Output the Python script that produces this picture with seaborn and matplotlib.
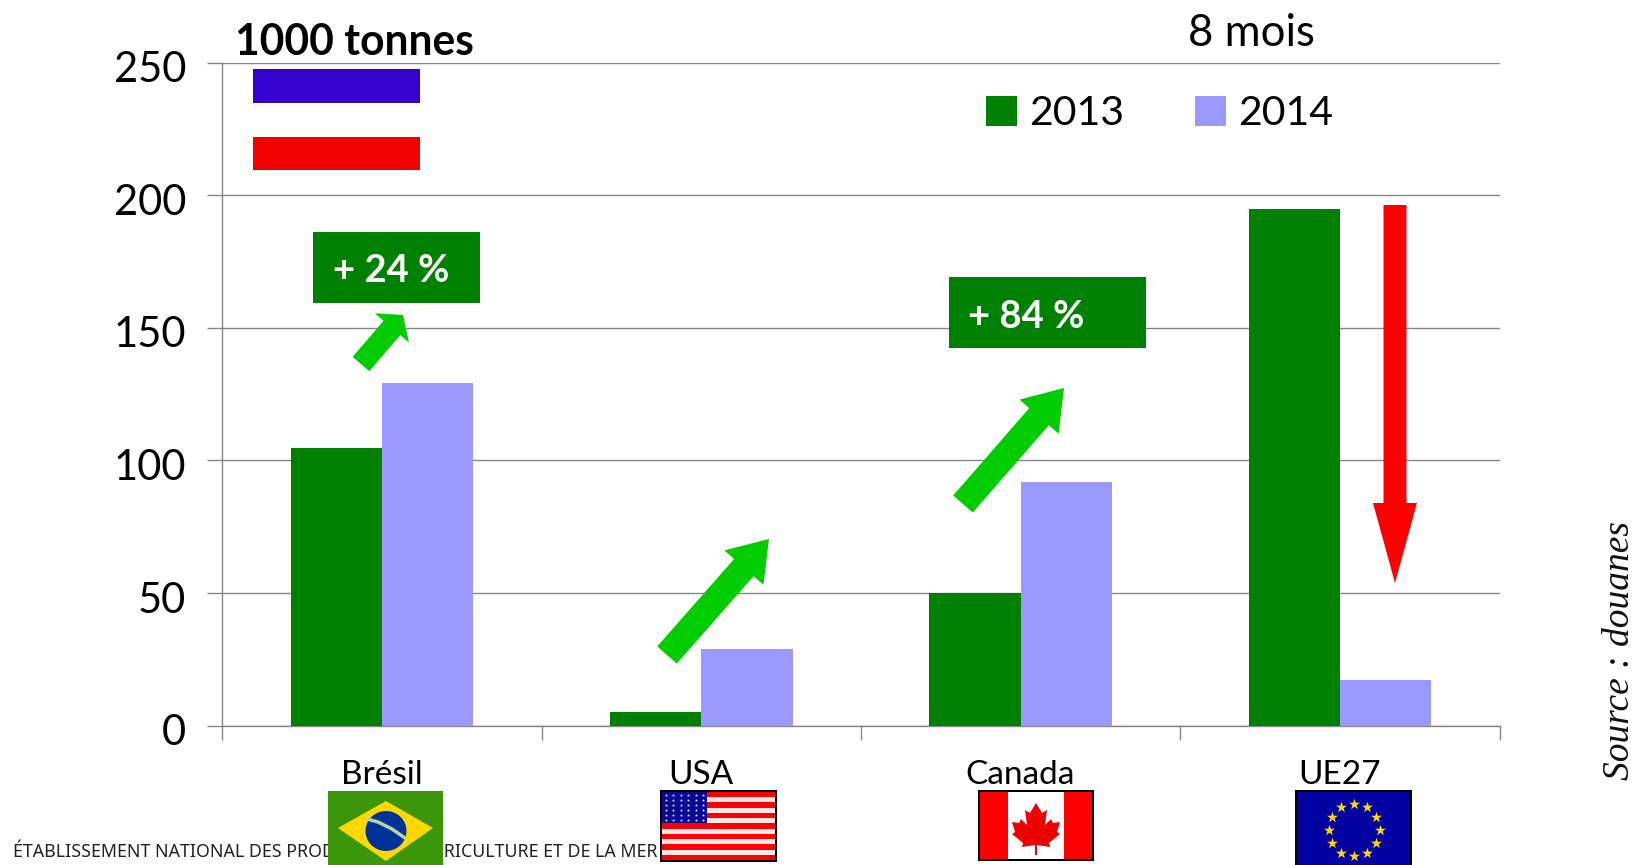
import numpy as np
import pandas as pd
import matplotlib
matplotlib.use("Agg")
import matplotlib.pyplot as plt
from matplotlib.patches import Polygon, Rectangle, Ellipse
from matplotlib.transforms import ScaledTranslation
import seaborn as sns

# Import volumes, thousand tonnes, first eight months of the year
countries = ["Brésil", "USA", "Canada", "UE27"]
years = ["2013", "2014"]
values_2013 = [104.5, 5, 50, 195]
values_2014 = [129, 29, 92, 17]
y_ticks = [0, 50, 100, 150, 200, 250]

GREEN, LAVENDER = "#008000", "#9999FF"
ARROW_GREEN, ARROW_RED = "#00CC00", "#FF0000"
GRID = "#868686"
W, H = 1636, 865
SANS = "Lato"

sns.set_theme(style="white")
plt.rcParams["font.family"] = [SANS, "DejaVu Sans"]

frame = pd.DataFrame({
    "pays": countries * 2,
    "annee": [years[0]] * 4 + [years[1]] * 4,
    "volume": values_2013 + values_2014,
})

fig = plt.figure(figsize=(W / 100, H / 100), dpi=100, facecolor="white")
ax = fig.add_axes([222.3 / W, 1 - 725.5 / H, (1499.5 - 222.3) / W, (725.5 - 62.7) / H])

sns.barplot(data=frame, x="pays", y="volume", hue="annee", order=countries,
            hue_order=years, palette=[GREEN, LAVENDER], width=0.572, gap=0,
            saturation=1, linewidth=0, ax=ax, zorder=3)

ax.set_xlim(-0.5, 3.5)
ax.set_ylim(0, 250)
ax.set_xlabel("")
ax.set_ylabel("")
ax.set_yticks(y_ticks)
ax.set_xticks(range(4), countries)
ax.set_xticks(np.arange(-0.5, 4), minor=True)
ax.grid(axis="y", color=GRID, linewidth=1.0, zorder=0)
ax.set_axisbelow(True)
ax.tick_params(axis="y", length=11, width=1.0, color=GRID, labelsize=30, pad=15,
               left=True, labelcolor="black")
ax.tick_params(axis="x", which="major", length=0, labelsize=24, pad=25, labelcolor="black")
ax.tick_params(axis="x", which="minor", length=10, width=1.0, color=GRID, bottom=True)
for side in ("top", "right"):
    ax.spines[side].set_visible(False)
for side in ("left", "bottom"):
    ax.spines[side].set_color(GRID)
    ax.spines[side].set_linewidth(1.0)

# Value labels sit slightly below their gridlines
label_shift = ScaledTranslation(0, -3 / 72, fig.dpi_scale_trans)
for label in ax.get_yticklabels():
    label.set_transform(label.get_transform() + label_shift)

handles, labels = ax.get_legend_handles_labels()
ax.legend(handles, labels, ncol=2, frameon=False, fontsize=29.5, loc="upper left",
          bbox_to_anchor=((963.5 - 222.3) / (1499.5 - 222.3), 0.985),
          handlelength=0.76, handleheight=0.76, handletextpad=0.3,
          columnspacing=1.72, borderaxespad=0, borderpad=0.55,
          labelcolor="black")

# Overlay in pixel units for the slide decorations
ov = fig.add_axes([0, 0, 1, 1], zorder=5)
ov.set_xlim(0, W)
ov.set_ylim(H, 0)
ov.axis("off")
ov.patch.set_alpha(0)


def rect(x0, y0, x1, y1, color, **kw):
    ov.add_patch(Rectangle((x0, y0), x1 - x0, y1 - y0, facecolor=color,
                           edgecolor="none", **kw))


def arrow(tail, tip, shaft, head, head_len, color):
    tail, tip = np.array(tail, float), np.array(tip, float)
    d = (tip - tail) / np.linalg.norm(tip - tail)
    n = np.array([-d[1], d[0]])
    neck = tip - d * head_len
    pts = [tail + n * shaft / 2, neck + n * shaft / 2, neck + n * head / 2, tip,
           neck - n * head / 2, neck - n * shaft / 2, tail - n * shaft / 2]
    ov.add_patch(Polygon(pts, closed=True, facecolor=color, edgecolor="none"))


# Header and the two colour blocks below it
ov.text(235, 42, "1000 tonnes", fontsize=30.7, fontweight="bold", color="black",
        va="center", ha="left")
rect(253, 69, 420, 103, "#3300CC")
rect(253, 137, 420, 170, "#F00000")
ov.text(1251, 33, "8 mois", fontsize=31.5, color="black", ha="center", va="center")

# Change badges
rect(313, 232, 480, 303, GREEN)
ov.text(333, 271, "+ 24 %", fontsize=27.5, fontweight="bold", color="white", va="center")
rect(948.5, 277, 1146, 348, GREEN)
ov.text(968, 317, "+ 84 %", fontsize=27.5, fontweight="bold", color="white", va="center")

# Trend arrows
arrow((361, 364), (403, 315), 22, 45, 17, ARROW_GREEN)
arrow((667, 655), (769, 539), 26, 52, 38, ARROW_GREEN)
arrow((963, 504), (1064, 388), 26, 52, 38, ARROW_GREEN)
arrow((1395, 205), (1395, 583), 23, 44, 80, ARROW_RED)

# Source and footer
ov.text(1620, 651, "Source : douanes", rotation=90, family="Liberation Serif",
        style="italic", fontsize=27, ha="center", va="center", color="#111111")
ov.text(13, 852, "ÉTABLISSEMENT NATIONAL DES PRODUITS DE L'AGRICULTURE ET DE LA MER",
        fontsize=12.8, family="Noto Sans", color="#222222", ha="left", va="center",
        zorder=0.5)

# Flags beneath the category labels
# Brazil
rect(328, 791, 443, 865, "#3C960A")
ov.add_patch(Polygon([(338, 828), (386, 801), (433, 828), (386, 861)], closed=True,
                     facecolor="#FFD800", edgecolor="none"))
ov.add_patch(Ellipse((386, 831), 41, 40, facecolor="#003399", edgecolor="none"))
ov.plot([367, 378, 392, 405], [819, 822, 829, 838], color="#B5D6A0", lw=2.5)

# USA
rect(660, 790, 777, 862, "black")
for i in range(13):
    y0 = 792 + i * 68 / 13
    rect(662, y0, 775, y0 + 68 / 13, "#FF0000" if i % 2 == 0 else "#FBE6E6")
rect(662, 792, 707, 823, "#0A0A96")
sx, sy = np.meshgrid(np.linspace(666, 703, 6), np.linspace(795, 820, 6))
ov.scatter(sx.ravel(), sy.ravel(), s=5, marker="*", color="white", linewidths=0)

# Canada
rect(978, 790, 1094, 861, "black")
rect(980, 792, 1092, 859, "white")
rect(980, 792, 1008, 859, "#FF0000")
rect(1064, 792, 1092, 859, "#FF0000")
leaf = [(1036, 803), (1042, 813), (1047, 810), (1045, 825), (1051, 819), (1053, 823),
        (1060, 822), (1057, 832), (1060, 834), (1049, 843), (1050, 847), (1037, 845),
        (1037, 855), (1035, 855), (1035, 845), (1022, 847), (1023, 843), (1012, 834),
        (1015, 832), (1012, 822), (1019, 823), (1021, 819), (1027, 825), (1025, 810),
        (1030, 813)]
ov.add_patch(Polygon(leaf, closed=True, facecolor="#EE0000", edgecolor="none"))

# European Union
rect(1295, 790, 1412, 865, "black")
rect(1297, 792, 1410, 865, "#0000A0")
angles = np.deg2rad(np.arange(0, 360, 30))
ov.scatter(1354 + 25.5 * np.cos(angles), 830 + 26 * np.sin(angles), s=70, marker="*",
           color="#FFD800", linewidths=0)

fig.savefig("out.png", dpi=100, facecolor="white")
